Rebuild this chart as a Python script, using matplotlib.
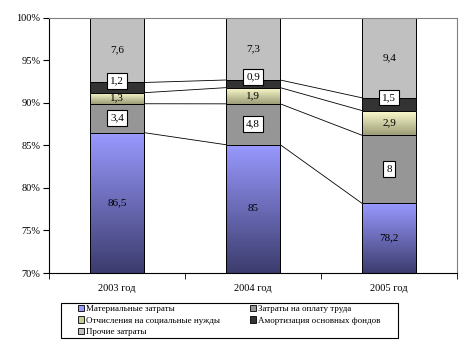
import matplotlib
matplotlib.use("Agg")
import matplotlib.pyplot as plt
import numpy as np
from matplotlib.colors import LinearSegmentedColormap
from matplotlib.patches import Patch, Rectangle

years = ["2003 год", "2004 год", "2005 год"]
series = ["Материальные затраты", "Затраты на оплату труда",
          "Отчисления на социальные нужды", "Амортизация основных фондов",
          "Прочие затраты"]
material = [86.5, 85, 78.2]
labor = [3.4, 4.8, 8]
social = [1.3, 1.9, 2.9]
amort = [1.2, 0.9, 1.5]
other = [7.6, 7.3, 9.4]
labels_text = [["86,5", "85", "78,2"], ["3,4", "4,8", "8"], ["1,3", "1,9", "2,9"],
               ["1,2", "0,9", "1,5"], ["7,6", "7,3", "9,4"]]

data = np.array([material, labor, social, amort, other], dtype=float)
pct = data / data.sum(axis=0) * 100

colors = ["#9999FF", "#969696", "#E8E8B0", "#333333", "#C0C0C0"]
gradients = {0: ("#9999FF", "#3C3C6E"), 2: ("#FFFFD0", "#9C9C78")}
boxed = {1, 3}

plt.rcParams["font.family"] = ["Liberation Serif", "DejaVu Serif"]

fig = plt.figure(figsize=(4.66, 3.5), dpi=100)
ax = fig.add_axes([0.105, 0.22, 0.876, 0.729])

x = np.arange(len(years))
w = 0.4
bottom = np.zeros(len(years))
tops = []
for k in range(len(series)):
    bars = ax.bar(x, pct[k], w, bottom=bottom, color=colors[k],
                  edgecolor="black", linewidth=0.7, zorder=2)
    if k in gradients:
        cmap = LinearSegmentedColormap.from_list("g", [gradients[k][1], gradients[k][0]])
        for b in bars:
            y0 = max(b.get_y(), 70)
            y1 = b.get_y() + b.get_height()
            im = ax.imshow(np.linspace(0, 1, 100).reshape(-1, 1), cmap=cmap,
                           aspect="auto", origin="lower",
                           extent=[b.get_x(), b.get_x() + b.get_width(), y0, y1],
                           zorder=2.5)
            im.set_clip_path(b)
        ax.bar(x, pct[k], w, bottom=bottom, fill=False, edgecolor="black",
               linewidth=0.7, zorder=3)
    for i, b in enumerate(bars):
        y0 = max(b.get_y(), 70)
        y1 = b.get_y() + b.get_height()
        yc = (y0 + y1) / 2
        if k == 3:
            yc += 0.8
        kw = dict(ha="center", va="center", fontsize=8, zorder=5)
        if k in boxed:
            kw["bbox"] = dict(boxstyle="square,pad=0.3", fc="white", ec="black", lw=0.8)
        ax.text(b.get_x() + b.get_width() / 2, yc, labels_text[k][i], **kw)
    bottom = bottom + pct[k]
    tops.append(bottom.copy())

# series lines
for t in tops[:-1]:
    for i in range(len(years) - 1):
        ax.plot([x[i] + w / 2, x[i + 1] - w / 2], [t[i], t[i + 1]],
                color="black", lw=0.6, zorder=1)

ax.set_xlim(-0.5, 2.5)
ax.set_ylim(70, 100)
ax.set_yticks(np.arange(70, 101, 5))
ax.set_yticklabels([f"{v}%" for v in range(70, 101, 5)], fontsize=7.5)
ax.set_xticks(x)
ax.set_xticklabels(years, fontsize=7.5)
ax.set_xticks([-0.5, 0.5, 1.5, 2.5], minor=True)
ax.tick_params(axis="x", which="major", length=0, pad=8)
ax.tick_params(axis="x", which="minor", length=4, direction="out")
ax.tick_params(axis="y", length=4, direction="out", pad=2)
for s in ["top", "right"]:
    ax.spines[s].set_color("#808080")
    ax.spines[s].set_linewidth(0.8)
for s in ["left", "bottom"]:
    ax.spines[s].set_linewidth(0.8)

# legend frame drawn by hand, legend itself without frame
fig.patches.append(Rectangle((61 / 466, 12 / 350), 337 / 466, 35 / 350,
                             transform=fig.transFigure, fill=False,
                             edgecolor="black", lw=0.8))
handles = [Patch(facecolor=c, edgecolor="black", lw=0.6)
           for c in ["#9999FF", "#969696", "#C8C898", "#333333", "#C0C0C0"]]
order = [0, 2, 4, 1, 3]
fig.legend([handles[j] for j in order], [series[j] for j in order],
           loc="upper left", bbox_to_anchor=(78 / 466, 1 - 305 / 350),
           ncol=2, fontsize=6.5, frameon=False,
           handlelength=0.7, handleheight=0.7, handletextpad=0.2,
           labelspacing=0.35, borderpad=0, borderaxespad=0, columnspacing=3.3)

fig.savefig("out.png", dpi=100)
